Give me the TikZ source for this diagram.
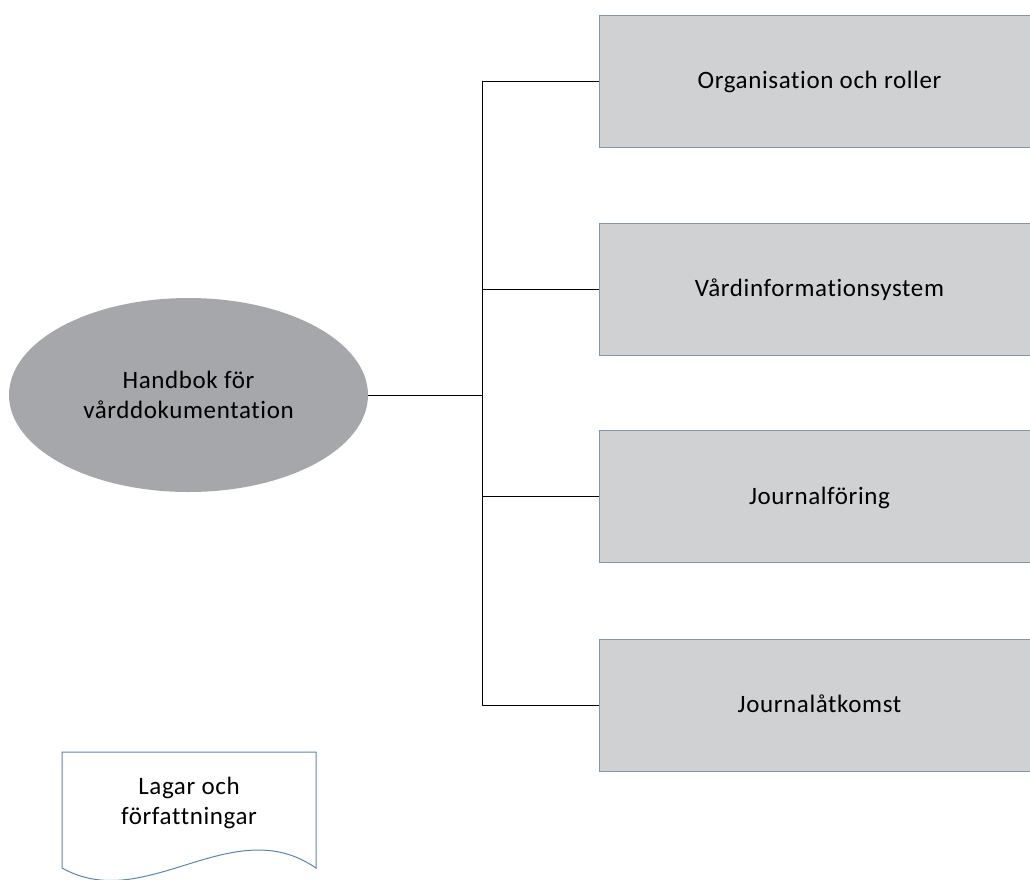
\documentclass[tikz,border=0pt]{standalone}
\usepackage{fontspec}
\setmainfont{Carlito}[Ligatures=NoCommon, LetterSpace=2.5]
\usetikzlibrary{shapes.geometric}
\definecolor{boxfill}{HTML}{D0D1D3}
\definecolor{boxline}{HTML}{8198AC}
\definecolor{ellfill}{HTML}{A6A7AB}
\definecolor{docline}{HTML}{5A86AE}
\tikzset{
  topic/.style={draw=boxline, line width=1pt, fill=boxfill, minimum width=441pt, minimum height=132pt, inner sep=0pt, text height=15pt, text depth=0pt, font=\fontsize{25}{30}\selectfont},
  hub/.style={ellipse, fill=ellfill, minimum width=359pt, minimum height=194pt, inner sep=0pt, align=center, font=\fontsize{25}{30}\selectfont},
  conn/.style={draw=black, line width=1pt},
  doctext/.style={align=center, font=\fontsize{25}{30}\selectfont}
}
\begin{document}
\begin{tikzpicture}[x=1pt,y=-1pt]
\useasboundingbox (0,0) rectangle (1030,879);
\node[hub] (root) at (188.5,395) {Handbok för\\vårddokumentation};
\node[topic] (b1) at (819.5,81) {Organisation och roller};
\node[topic] (b2) at (819.5,289) {Vårdinformationsystem};
\node[topic] (b3) at (819.5,496.5) {Journalföring};
\node[topic] (b4) at (819.5,705) {Journalåtkomst};
\coordinate (J) at (482,395);
\draw[conn] (root.east) -- (J);
\draw[conn] (J) |- (b1.west);
\draw[conn] (J) |- (b2.west);
\draw[conn] (J) |- (b3.west);
\draw[conn] (J) |- (b4.west);
\draw[draw=docline, line width=1pt] (62,868) -- (62,752) -- (316,752) -- (316,868) .. controls (232,810) and (146,915) .. (62,868);
\node[doctext] (doc) at (189,803) {Lagar och\\författningar};
\end{tikzpicture}
\end{document}
